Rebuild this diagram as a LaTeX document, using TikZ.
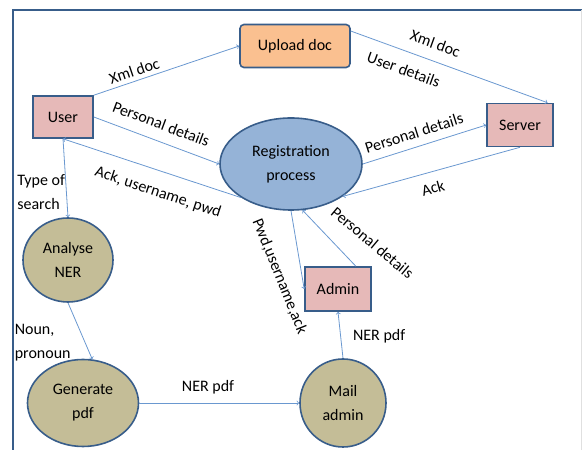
\documentclass[tikz,border=0pt]{standalone}
\usepackage{fontspec}
\setmainfont{Carlito}
\usetikzlibrary{shapes.geometric, positioning, arrows}

\definecolor{frameblue}{HTML}{385D8A}
\definecolor{lineblue}{HTML}{6A98D0}
\definecolor{docorange}{HTML}{FAC090}
\definecolor{boxpink}{HTML}{E6B9B8}
\definecolor{procblue}{HTML}{95B3D7}
\definecolor{taskkhaki}{HTML}{C4BD97}

\begin{document}
\begin{tikzpicture}[x=1pt, y=1pt, on grid, >=to,
		font=\fontsize{16}{24}\selectfont,
		ent/.style={rectangle, draw=frameblue, line width=1.6pt, fill=boxpink, minimum width=60pt, minimum height=42pt},
		doc/.style={ent, rounded corners=4pt, fill=docorange, minimum width=110pt, minimum height=43pt},
		proc/.style={ellipse, draw=frameblue, line width=1.6pt, fill=procblue, align=center, inner sep=0pt},
		task/.style={proc, fill=taskkhaki},
		lbl/.style={inner sep=2pt, text=black},
		every edge/.style={draw=lineblue, line width=0.8pt}] 
		\useasboundingbox (0,0) rectangle (582,450);
		\draw[frameblue, line width=1.8pt] (13,0) -- (13,440) -- (582,440);
		\draw[black!12, line width=1pt] (581,440) -- (581,0);
		
		\node[ent] (user) at (63,333) {User}; 
		\node[doc] (upload) [above right=71pt and 232pt of user] {Upload doc}; 
		\node[proc, minimum width=142pt, minimum height=92pt] (reg) [below right=47pt and 228pt of user] {Registration\\process}; 
		\node[ent, minimum width=66pt, minimum height=43pt] (server) [above right=39pt and 229pt of reg] {Server}; 
		\node[ent, minimum width=66pt, minimum height=44pt] (admin) [below right=125pt and 47pt of reg] {Admin}; 
		\node[task, minimum width=86pt, minimum height=88pt] (mail) [below right=114pt and 5pt of admin] {Mail\\admin}; 
		\node[task, minimum width=90pt, minimum height=84pt] (analyse) [below right=143pt and 5pt of user] {Analyse\\NER}; 
		\node[task, minimum width=111pt, minimum height=87pt] (generate) [below right=143pt and 15pt of analyse] {Generate\\pdf}; 
		\path[->] 
		(user.north east) edge node[lbl, sloped, above=2pt, pos=0.3] {Xml doc} (upload.west)
		(upload.15) edge node[lbl, sloped, above=9pt, pos=0.4] {Xml doc}
			node[lbl, sloped, below=10pt, pos=0.3] {User details} (server.39)
		
		(user.east) edge node[lbl, sloped, above=9pt, pos=0.49] {Personal details} (reg.west)
		(reg.214) edge node[lbl, sloped, below=12pt, pos=0.43] {Ack, username, pwd} (user.south)
		(user.south) edge node[lbl, left=-1pt, pos=0.675, align=left] {Type of\\search} (analyse.north)
		
		(analyse.south) edge node[lbl, left=12pt, pos=0.7, align=left] {Noun,\\pronoun} (generate.78)
		(generate.east) edge node[lbl, above=7pt, pos=0.43] {NER pdf} (mail.west)
		(mail.north) edge node[lbl, right=10pt, pos=0.47] {NER pdf} (admin.south)
		
		(admin.52) edge node[lbl, pos=0.08, xshift=21pt, yshift=19pt, rotate=-40] {Personal details} (reg.284)
		(reg.south) edge node[lbl, pos=0.8, xshift=-22pt, yshift=-3pt, rotate=-68] {Pwd,username,ack} (admin.west)
		
		(reg.east) edge node[lbl, sloped, above=6pt, pos=0.45] {Personal details} (server.west)
		(server.south) edge node[lbl, sloped, below=8pt, pos=0.515] {Ack} (reg.328)
		;
		\end{tikzpicture}
\end{document}
